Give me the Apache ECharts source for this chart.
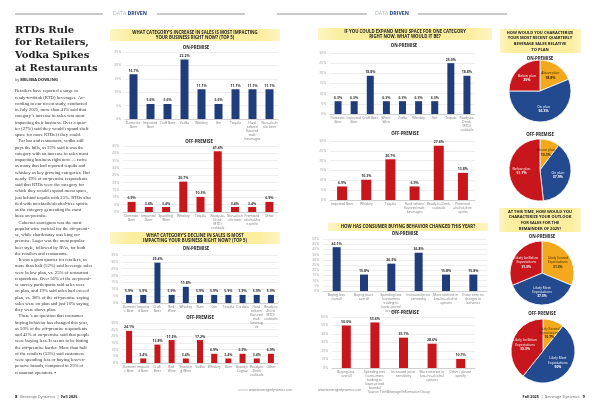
<!DOCTYPE html>
<html><head><meta charset="utf-8">
<script src="https://cdn.jsdelivr.net/npm/echarts@6/dist/echarts.min.js"></script>
<style>html,body{margin:0;padding:0;background:#fff}#c{width:600px;height:403px}</style>
</head><body><div id="c"></div>
<script>
// ---------- data ----------
const incOnCats = ['Domestic Beer','Imported Beer','Craft Beer','Vodka','Whiskey','Gin','Tequila','Hard seltzer/flavored malt beverages','Non-alcoholic beer'];
const incOnVals = [16.7,5.6,5.6,22.2,11.1,5.6,11.1,11.1,11.1];
const incOffCats = ['Domestic Beer','Imported Beer','Sparkling Wine','Whiskey','Tequila','Ready-to-Drink (RTD) cocktails','Non-alcoholic beer','Premixed alcohol-free spirits','Other'];
const incOffVals = [6.9,3.4,3.4,20.7,10.3,41.4,3.4,3.4,6.9];
const decOnCats = ['Domestic Beer','Imported Beer','Craft Beer','Red Wine','Whiskey','Rum','Gin','Tequila','Cordials','Hard seltzer/flavored malt beverages','Ready-to-Drink (RTD) cocktails'];
const decOnVals = [5.9,5.9,29.4,5.9,11.8,5.9,5.9,5.9,5.9,5.9,5.9];
const decOffCats = ['Domestic Beer','Imported Beer','Craft Beer','Red Wine','Sparkling Wine','Vodka','Whiskey','Rum','Brandy/ Cognac','Ready-to-Drink cocktails','Other'];
const decOffVals = [24.1,3.4,13.8,17.2,3.4,17.2,6.9,3.4,6.9,3.4,6.9];
const expOnCats = ['Domestic Beer','Imported Beer','Craft Beer','White Wine','Vodka','Whiskey','Gin','Tequila','Ready-to-Drink (RTD) cocktails'];
const expOnVals = [6.3,6.3,18.8,6.3,6.3,6.3,6.3,25.0,18.8];
const expOffCats = ['Imported Beer','Whiskey','Tequila','Hard seltzer/flavored malt beverages','Ready-to-Drink cocktails','Premixed alcohol-free spirits'];
const expOffVals = [6.9,10.3,20.7,6.9,27.6,13.8];
const buyOnCats = ['Buying less overall','Buying more overall','Spending less (consumers trading to lower-priced brands)','Increased price sensitivity','More interest in low-/no-alcohol options','I have seen no changes in behavior'];
const buyOnVals = [42.1,15.8,26.3,36.8,15.8,15.8];
const buyOffCats = ['Buying less overall','Spending less (consumers trading to lower-priced brands)','Increased price sensitivity','More interest in low-/no-alcohol options','Other / please specify'];
const buyOffVals = [50.0,53.6,35.7,28.6,10.7];
const planNames = ['Above plan','On plan','Below plan'];
const planOnVals = [18.8,56.3,25];
const planOffVals = [10.3,37.9,51.7];
const outlookNames = ['Likely Exceed Expectations','Likely Meet Expectations','Likely be Below Expectations'];
const outlookOnVals = [31.3,37.5,31.3];
const outlookOffVals = [10.7,50,39.3];

const articleLines = [
'Retailers have reported a surge in',
'ready-to-drink (RTD) beverages. Ac-',
'cording to our recent study, conducted',
'in July 2025, more than 41% said that',
'category\u2019s increase in sales was most',
'impacting their business. Over a quar-',
'ter (27%) said they would expand shelf',
'space for more RTDs if they could.',
'   For bar and restaurants, vodka still',
'pays the bills, as 22% said it was the',
'category with an increase in sales most',
'impacting business right now \u2014 twice',
'as many that had reported tequila and',
'whiskey as key growing categories. But',
'nearly 19% of on-premise respondents',
'said that RTDs were the category for',
'which they would expand menu space,',
'just behind tequila with 25%. RTDs also',
'tied with mocktails/alcohol-free spirits',
'as the category generating the most',
'buzz on-premise.',
'   Cabernet sauvignon was the most',
'popular wine varietal for the off-premi-',
'se, while chardonnay was king on-',
'premise. Lager was the most popular',
'beer style, followed by IPAs, for both',
'the retailers and restaurants.',
'   It was a grim quarter for retailers, as',
'more than half (52%) said beverage sales',
'were below plan, vs. 25% of restaurant',
'respondents. Over 56% of the on-premi-',
'se survey participants said sales were',
'on plan, and 19% said sales had exceed',
'plan, vs. 38% of the off-premise saying',
'sales were on plan and just 10% saying',
'they were above plan.',
'   There\u2019s no question that consumer',
'buying behavior has changed this year,',
'as 50% of the off-premise respondents',
'and 42% of on-premise said that people',
'were buying less. It seems to be hitting',
'the off-premise harder. More than half',
'of the retailers (53%) said customers',
'were spending less or buying less-ex-',
'pensive brands, compared to 25% of',
'restaurant operators. \u25aa'
];

// ---------- styles ----------
const BLUE = '#1f3d7a', RED = '#c8161d', ORANGE = '#f4a81d', PBLUE = '#23498f';
const SANS = 'Open Sans';

const grids = [
  {left:125, top:52, width:153, height:67},
  {left:123, top:146, width:155, height:66},
  {left:122, top:255, width:156, height:48},
  {left:122, top:323, width:156, height:40},
  {left:330, top:53, width:145, height:61},
  {left:330, top:141, width:145, height:59},
  {left:323, top:239, width:164, height:52},
  {left:332, top:317, width:143, height:51}
];
const barSets = [
  {cats:incOnCats, vals:incOnVals, max:25, step:5, color:BLUE, bw:8, lw:17},
  {cats:incOffCats, vals:incOffVals, max:45, step:5, color:RED, bw:8, lw:17},
  {cats:decOnCats, vals:decOnVals, max:35, step:5, color:BLUE, bw:6, lw:14},
  {cats:decOffCats, vals:decOffVals, max:30, step:5, color:RED, bw:6, lw:14},
  {cats:expOnCats, vals:expOnVals, max:30, step:5, color:BLUE, bw:7, lw:16},
  {cats:expOffCats, vals:expOffVals, max:30, step:5, color:RED, bw:10, lw:24},
  {cats:buyOnCats, vals:buyOnVals, max:50, step:5, color:BLUE, bw:8, lw:26},
  {cats:buyOffCats, vals:buyOffVals, max:60, step:10, color:RED, bw:9, lw:28}
];

const xAxis = [], yAxis = [], series = [];
barSets.forEach((b, i) => {
  xAxis.push({type:'category', gridIndex:i, data:b.cats,
    axisLine:{lineStyle:{color:'#bbb', width:0.6}}, axisTick:{show:false},
    axisLabel:{interval:0, fontSize:3.3, color:'#777', fontFamily:SANS, margin:2.5,
      width:b.lw, overflow:'break', lineHeight:4}});
  yAxis.push({type:'value', gridIndex:i, min:0, max:b.max, interval:b.step,
    axisLine:{show:false}, axisTick:{show:false},
    splitLine:{lineStyle:{color:'#ddd', width:0.5}},
    axisLabel:{fontSize:3.4, color:'#999', fontFamily:SANS, margin:4, formatter:'{value}%'}});
  series.push({type:'bar', xAxisIndex:i, yAxisIndex:i, data:b.vals, barWidth:b.bw,
    itemStyle:{color:b.color}, animation:false,
    label:{show:true, position:'top', distance:1.5, fontSize:3.5, fontWeight:'bold',
      color:'#333', fontFamily:SANS, formatter: p => p.value.toFixed(1) + '%'}});
});

function pie(center, r, names, vals, lblSize) {
  return {type:'pie', center:center, radius:r, startAngle:90, clockwise:true,
    animation:false, silent:true,
    data: names.map((n, k) => ({name:n, value:vals[k],
      itemStyle:{color:[ORANGE, PBLUE, RED][k], borderColor:'#fff', borderWidth:0.8},
      label:{color: k === 0 ? '#3a2a00' : '#fff'}})),
    label:{show:true, position:'inner', fontSize:lblSize, fontFamily:SANS, lineHeight:lblSize+1,
      formatter: p => p.name.replace(' Expectations','\nExpectations') + '\n{b|' + p.value + '%}',
      rich:{b:{fontSize:lblSize, fontWeight:'bold', fontFamily:SANS}}},
    labelLine:{show:false}};
}
series.push(pie([540,91], 31, planNames, planOnVals, 3.5));
series.push(pie([540,170], 31, planNames, planOffVals, 3.5));
series.push(pie([542,273], 32, outlookNames, outlookOnVals, 3.3));
series.push(pie([543,351], 32, outlookNames, outlookOffVals, 3.3));

// ---------- graphic text ----------
const G = [];
function txt(x, y, text, o) {
  G.push({type:'text', x:x, y:y, silent:true, style:Object.assign({text:text,
    fontFamily:SANS, fontSize:5, fill:'#222', textAlign:'center', textVerticalAlign:'middle'}, o || {})});
}
function yellow(x, y, w, h) {
  G.push({type:'rect', silent:true, shape:{x:x, y:y, width:w, height:h},
    style:{fill:{type:'linear', x:0, y:0, x2:1, y2:0, colorStops:[
      {offset:0, color:'rgba(252,236,150,0.55)'},{offset:0.12, color:'#fcee9f'},
      {offset:0.88, color:'#fcee9f'},{offset:1, color:'rgba(252,236,150,0.55)'}]}}});
}
function line(x1, y1, x2, y2, c, w) {
  G.push({type:'line', silent:true, shape:{x1:x1, y1:y1, x2:x2, y2:y2}, style:{stroke:c, lineWidth:w}});
}
// page headers
[[130,15,103,157,245],[392,277,367,418,507]].forEach(h => {
  line(h[1], 14, h[2], 14, '#666', 0.7);
  line(h[3], 14, h[4], 14, '#666', 0.7);
  txt(h[0], 14, '{a|DATA} {b|DRIVEN}', {rich:{a:{fontSize:5.2, fill:'#aab4c4', fontFamily:SANS},
    b:{fontSize:5.2, fontWeight:'bold', fill:'#1f3d7a', fontFamily:SANS}}});
});
// article
txt(15, 49, 'RTDs Rule\nfor Retailers,\nVodka Spikes\nat Restaurants',
  {textAlign:'left', fontFamily:'DejaVu Serif', fontWeight:'bold', fontSize:10, lineHeight:12.7, fill:'#222'});
txt(15, 80, '{a|by} {b|MELISSA DOWLING}', {textAlign:'left',
  rich:{a:{fontSize:3.6, fill:'#444', fontFamily:SANS}, b:{fontSize:4, fontWeight:'bold', fill:'#222', fontFamily:SANS}}});
txt(15, 88, articleLines.join('\n'), {textAlign:'left', textVerticalAlign:'top',
  fontFamily:'Liberation Serif', fontSize:4.7, lineHeight:6.25, fill:'#333'});
// footers
txt(15, 397, '{n|8}   Beverage Dynamics  |  {b|Fall 2025}', {textAlign:'left', fontSize:3.8, fill:'#666',
  rich:{n:{fontSize:4.2, fontWeight:'bold', fill:'#222', fontFamily:SANS}, b:{fontSize:3.8, fontWeight:'bold', fill:'#222', fontFamily:SANS}}});
txt(585, 397, '{b|Fall 2025}  |  Beverage Dynamics   {n|9}', {textAlign:'right', fontSize:3.8, fill:'#666',
  rich:{n:{fontSize:4.2, fontWeight:'bold', fill:'#222', fontFamily:SANS}, b:{fontSize:3.8, fontWeight:'bold', fill:'#222', fontFamily:SANS}}});
// yellow headers
yellow(110, 29, 170, 12);
txt(195, 35, "WHAT CATEGORY'S INCREASE IN SALES IS MOST IMPACTING\nYOUR BUSINESS RIGHT NOW? (TOP 5)", {fontWeight:'bold', fontSize:4.3, lineHeight:5.4});
yellow(110, 232, 170, 12);
txt(195, 238, "WHAT CATEGORY'S DECLINE IN SALES IS MOST\nIMPACTING YOUR BUSINESS RIGHT NOW? (TOP 5)", {fontWeight:'bold', fontSize:4.3, lineHeight:5.4});
yellow(318, 28, 174, 12);
txt(405, 34, "IF YOU COULD EXPAND MENU SPACE FOR ONE CATEGORY\nRIGHT NOW, WHAT WOULD IT BE?", {fontWeight:'bold', fontSize:4.3, lineHeight:5.4});
yellow(328, 223, 160, 8);
txt(408, 227, "HOW HAS CONSUMER BUYING BEHAVIOR CHANGED THIS YEAR?", {fontWeight:'bold', fontSize:4.3});
yellow(500, 29, 81, 24);
txt(540, 41, "HOW WOULD YOU CHARACTERIZE\nYOUR MOST RECENT QUARTERLY\nBEVERAGE SALES RELATIVE\nTO PLAN", {fontWeight:'bold', fontSize:4, lineHeight:5.6});
yellow(499, 208, 82, 24);
txt(540, 220, "AT THIS TIME, HOW WOULD YOU\nCHARACTERIZE YOUR OUTLOOK\nFOR SALES FOR THE\nREMAINDER OF 2025?", {fontWeight:'bold', fontSize:4, lineHeight:5.6});
// sub titles
const subs = [[196,47.5,'ON-PREMISE'],[199,142,'OFF-PREMISE'],[196,249,'ON-PREMISE'],[200,318,'OFF-PREMISE'],
  [404,46,'ON-PREMISE'],[405,134,'OFF-PREMISE'],[405,234,'ON-PREMISE'],[405,313,'OFF-PREMISE'],
  [540,59,'ON-PREMISE'],[540,135,'OFF-PREMISE'],[542,237,'ON-PREMISE'],[542,314,'OFF-PREMISE']];
subs.forEach(s => txt(s[0], s[1], s[2], {fontWeight:'bold', fontSize:4.3, fill:'#222'}));
// source notes
line(238, 390, 248, 390, '#888', 0.5);
txt(249, 390, 'www.beveragedynamics.com', {textAlign:'left', fontSize:3.2, fill:'#777'});
txt(318, 390, 'www.beveragedynamics.com', {textAlign:'left', fontSize:3.2, fill:'#777'});
txt(368, 392.5, 'Source: TechBeverage/Information Group', {textAlign:'left', fontSize:3.2, fill:'#777'});

const chart = echarts.init(document.getElementById('c'), null, {renderer:'canvas'});
chart.setOption({backgroundColor:'#fff', animation:false, grid:grids, xAxis:xAxis, yAxis:yAxis,
  series:series, graphic:G});
</script></body></html>
